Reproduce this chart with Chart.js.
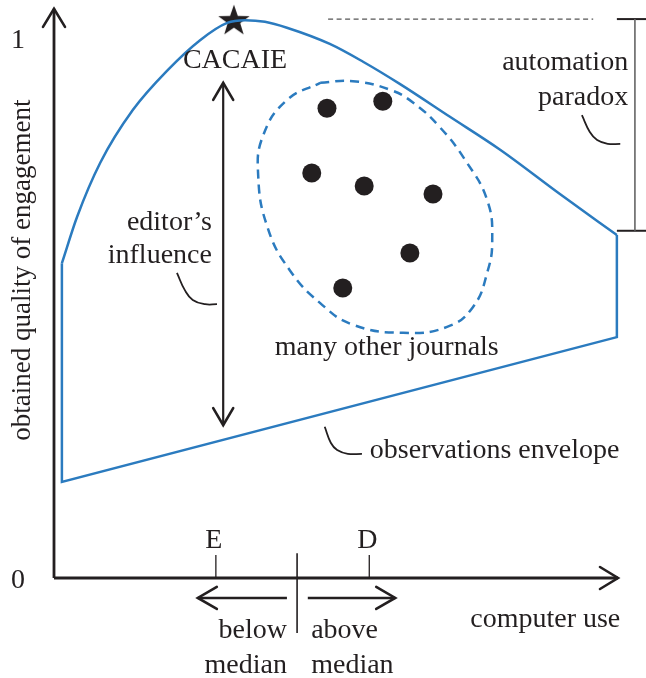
<!DOCTYPE html>
<html>
<head>
<meta charset="utf-8">
<script src="https://cdn.jsdelivr.net/npm/chart.js@4/dist/chart.umd.min.js"></script>
<style>
  html, body { margin: 0; padding: 0; background: #fff; }
  canvas { display: block; }
</style>
</head>
<body>
<canvas id="chart" width="646" height="678"></canvas>
<script>
const BLUE = '#2b7bbf';
const INK = '#231f20';
const FONT = '"Liberation Serif", "Times New Roman", serif';

// x: computer use (0..10), y: obtained quality of engagement (0..1)
const envelopeX = [0.14, 0.41, 0.82, 1.40, 2.02, 2.59, 3.07, 3.39, 3.74, 4.13, 4.89, 5.48, 6.13, 7.02, 7.91, 8.97, 9.98];
const envelopeY = [0.583, 0.669, 0.769, 0.867, 0.941, 0.996, 1.028, 1.033, 1.030, 1.019, 0.989, 0.956, 0.915, 0.854, 0.793, 0.711, 0.635];
const edgeX = [9.98, 9.98, 0.14, 0.14];
const edgeY = [0.635, 0.446, 0.178, 0.583];

// cluster of other journals
const clusterX = [4.72, 5.30, 5.96, 6.37, 6.84, 7.29, 7.68, 7.77, 7.68, 7.43, 6.97, 6.19, 5.30, 4.72, 4.18, 3.79, 3.62, 3.71, 4.13, 4.72];
const clusterY = [0.917, 0.920, 0.904, 0.880, 0.835, 0.774, 0.700, 0.626, 0.565, 0.502, 0.465, 0.454, 0.469, 0.509, 0.570, 0.648, 0.746, 0.820, 0.885, 0.917];
const journalsX = [4.84, 5.83, 4.57, 5.50, 6.72, 6.31, 5.12];
const journalsY = [0.870, 0.883, 0.750, 0.726, 0.711, 0.602, 0.537];

const cacaieX = [3.19];
const cacaieY = [1.033];

// automation paradox: dashed level + bracket
const levelX = [4.86, 9.56];
const levelY = [1.035, 1.035];
const bracketX = [10.30, 10.30];
const bracketY = [1.035, 0.643];
const capX = [9.98, 10.50];
const capTopY = [1.035, 1.035];
const capBottomY = [0.643, 0.643];

// leader hooks
const hookParadoxX = [9.36, 9.50, 9.63, 9.82, 10.04];
const hookParadoxY = [0.857, 0.826, 0.811, 0.804, 0.804];
const hookInfluenceX = [2.18, 2.32, 2.46, 2.68, 2.89];
const hookInfluenceY = [0.565, 0.533, 0.515, 0.507, 0.507];
const hookEnvelopeX = [4.80, 4.91, 5.02, 5.21, 5.46];
const hookEnvelopeY = [0.280, 0.250, 0.237, 0.230, 0.230];

// arrows
const yAxisX = [0, 0], yAxisY = [0, 1.054];
const xAxisX = [0, 10], xAxisY = [0, 0];
const influenceX = [3.00, 3.00], influenceY = [0.283, 0.917];
const belowX = [4.13, 2.55], belowY = [-0.037, -0.037];
const aboveX = [4.50, 6.05], aboveY = [-0.037, -0.037];
const dividerX = [4.31, 4.31], dividerY = [0.046, -0.102];

// ticks
const xTickValues = [2.87, 5.59];
const xTickLabels = ['E', 'D'];
const yTickValues = [0, 1];
const yTickLabels = ['0', '1'];

const pts = (xs, ys) => xs.map((x, i) => ({ x: x, y: ys[i] }));

function line(xs, ys, color, width, extra) {
  return Object.assign({
    data: pts(xs, ys), showLine: true, borderColor: color, borderWidth: width,
    pointRadius: 0, tension: 0, clip: false, fill: false
  }, extra || {});
}

// filled five point star for the CACAIE point
const star = document.createElement('canvas');
star.width = 34; star.height = 34;
(function () {
  const c = star.getContext('2d');
  c.fillStyle = INK;
  c.beginPath();
  for (let i = 0; i < 10; i++) {
    const r = i % 2 === 0 ? 16.5 : 6.6;
    const a = -Math.PI / 2 + i * Math.PI / 5;
    c.lineTo(17 + r * Math.cos(a), 18 + r * Math.sin(a));
  }
  c.closePath();
  c.fill();
})();

const arrowHeads = [
  { xs: yAxisX, ys: yAxisY, len: 18, half: 11, ends: [1] },
  { xs: xAxisX, ys: xAxisY, len: 18, half: 11, ends: [1] },
  { xs: influenceX, ys: influenceY, len: 17, half: 10, ends: [0, 1] },
  { xs: belowX, ys: belowY, len: 19, half: 11, ends: [1] },
  { xs: aboveX, ys: aboveY, len: 19, half: 11, ends: [1] }
];

const texts = [
  { t: 'CACAIE', x: 3.21, y: 0.944, align: 'center' },
  { t: 'editor\u2019s', x: 2.80, y: 0.644, align: 'right' },
  { t: 'influence', x: 2.80, y: 0.583, align: 'right' },
  { t: 'many other journals', x: 5.90, y: 0.413, align: 'center' },
  { t: 'observations envelope', x: 5.60, y: 0.222, align: 'left' },
  { t: 'automation', x: 10.18, y: 0.941, align: 'right' },
  { t: 'paradox', x: 10.18, y: 0.876, align: 'right' },
  { t: 'computer use', x: 7.38, y: -0.091, align: 'left' },
  { t: 'below', x: 4.13, y: -0.111, align: 'right' },
  { t: 'median', x: 4.13, y: -0.176, align: 'right' },
  { t: 'above', x: 4.56, y: -0.111, align: 'left' },
  { t: 'median', x: 4.56, y: -0.176, align: 'left' }
];

const sketchPlugin = {
  id: 'sketch',
  afterDatasetsDraw(chart) {
    const ctx = chart.ctx;
    const xs = chart.scales.x, ys = chart.scales.y;
    const px = v => xs.getPixelForValue(v), py = v => ys.getPixelForValue(v);
    ctx.save();
    // arrow heads
    ctx.strokeStyle = INK;
    ctx.lineWidth = 2.6;
    ctx.lineCap = 'round';
    ctx.lineJoin = 'miter';
    arrowHeads.forEach(a => {
      a.ends.forEach(e => {
        const o = 1 - e;
        const tx = px(a.xs[e]), ty = py(a.ys[e]);
        const fx = px(a.xs[o]), fy = py(a.ys[o]);
        const d = Math.hypot(tx - fx, ty - fy);
        const ux = (tx - fx) / d, uy = (ty - fy) / d;
        ctx.beginPath();
        ctx.moveTo(tx - ux * a.len - uy * a.half, ty - uy * a.len + ux * a.half);
        ctx.lineTo(tx, ty);
        ctx.lineTo(tx - ux * a.len + uy * a.half, ty - uy * a.len - ux * a.half);
        ctx.stroke();
      });
    });
    // tick marks
    ctx.lineWidth = 1.3;
    ctx.lineCap = 'butt';
    xTickValues.forEach(v => {
      ctx.beginPath();
      ctx.moveTo(px(v), py(0));
      ctx.lineTo(px(v), py(0) - 23);
      ctx.stroke();
    });
    // text
    ctx.fillStyle = INK;
    ctx.font = '28px ' + FONT;
    ctx.textBaseline = 'alphabetic';
    texts.forEach(s => {
      ctx.textAlign = s.align;
      ctx.fillText(s.t, px(s.x), py(s.y));
    });
    ctx.textAlign = 'center';
    xTickLabels.forEach((l, i) => ctx.fillText(l, px(xTickValues[i]) - 2, py(0) - 30));
    ctx.textBaseline = 'middle';
    yTickLabels.forEach((l, i) => ctx.fillText(l, 18, py(yTickValues[i]) + 3));
    // y axis title
    ctx.translate(30, py(0.570));
    ctx.rotate(-Math.PI / 2);
    ctx.textBaseline = 'alphabetic';
    ctx.font = '27px ' + FONT;
    ctx.fillText('obtained quality of engagement', 0, 0);
    ctx.restore();
  }
};

new Chart(document.getElementById('chart'), {
  type: 'scatter',
  data: {
    datasets: [
      line(envelopeX, envelopeY, BLUE, 2.5, { cubicInterpolationMode: 'monotone' }),
      line(edgeX, edgeY, BLUE, 2.5, { borderJoinStyle: 'miter' }),
      line(clusterX, clusterY, BLUE, 2.5, { tension: 0.45, borderDash: [9, 6] }),
      { data: pts(journalsX, journalsY), pointRadius: 9.5, pointBackgroundColor: INK, pointBorderWidth: 0, clip: false },
      { data: pts(cacaieX, cacaieY), pointStyle: star, clip: false },
      line(levelX, levelY, '#555', 1.3, { borderDash: [5, 3.5] }),
      line(bracketX, bracketY, '#666', 1.6),
      line(capX, capTopY, INK, 2),
      line(capX, capBottomY, INK, 2),
      line(hookParadoxX, hookParadoxY, INK, 1.8, { tension: 0.45 }),
      line(hookInfluenceX, hookInfluenceY, INK, 1.8, { tension: 0.45 }),
      line(hookEnvelopeX, hookEnvelopeY, INK, 1.8, { tension: 0.45 }),
      line(yAxisX, yAxisY, INK, 2.8),
      line(xAxisX, xAxisY, INK, 2.8),
      line(influenceX, influenceY, INK, 2.2),
      line(belowX, belowY, INK, 2.6),
      line(aboveX, aboveY, INK, 2.6),
      line(dividerX, dividerY, INK, 1.6)
    ]
  },
  options: {
    responsive: false,
    devicePixelRatio: 1,
    animation: false,
    events: [],
    layout: { padding: { left: 54, right: 28, top: 18, bottom: 100 } },
    scales: {
      x: { type: 'linear', min: 0, max: 10, display: false },
      y: { type: 'linear', min: 0, max: 1.037, display: false }
    },
    plugins: { legend: { display: false }, tooltip: { enabled: false } }
  },
  plugins: [sketchPlugin]
});
</script>
</body>
</html>
